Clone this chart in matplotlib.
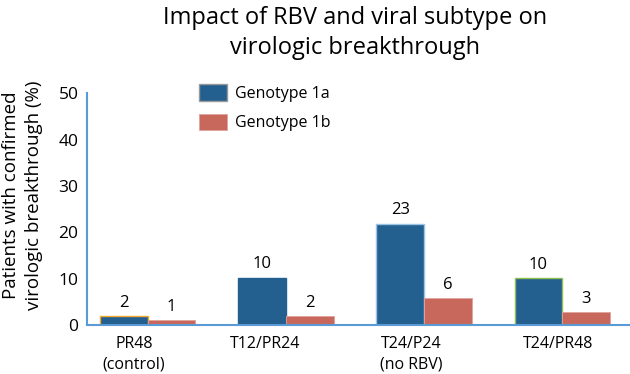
import matplotlib
matplotlib.use("Agg")
import matplotlib.pyplot as plt
import numpy as np

plt.rcParams['font.family'] = ['Open Sans', 'DejaVu Sans']

# regimens and values
groups = ['PR48\n(control)', 'T12/PR24', 'T24/P24\n(no RBV)', 'T24/PR48']
g1a = [1.9, 10.2, 21.8, 10.1]
g1b = [1.0, 1.9, 5.8, 2.7]
g1a_labels = ['2', '10', '23', '10']
g1b_labels = ['1', '2', '6', '3']

blue = '#23608f'
red = '#c8675c'
axis_col = '#5b9bd5'
edges_1a = ['#f0a830', blue, '#9cc3e6', '#8fbf4f']

fig = plt.figure(figsize=(6.3, 3.74), dpi=100)
ax = fig.add_axes([0.138, 0.131, 0.862, 0.62])

x = np.arange(len(groups))
w = 0.345
b1 = ax.bar(x - w / 2, g1a, w, color=blue, edgecolor=edges_1a, linewidth=1)
b2 = ax.bar(x + w / 2, g1b, w, color=red, edgecolor='#e0a39c', linewidth=0.6)

for i in range(len(groups)):
    ax.text(x[i] - w / 2, g1a[i] + 1.2, g1a_labels[i], ha='center', va='bottom', fontsize=12)
    ax.text(x[i] + w / 2, g1b[i] + 1.2, g1b_labels[i], ha='center', va='bottom', fontsize=12)

ax.set_xlim(-0.44, 3.49)
ax.set_ylim(0, 50)
ax.set_yticks([0, 10, 20, 30, 40, 50])
ax.tick_params(axis='y', length=0, labelsize=12.5, pad=6)
ax.set_xticks(x + np.array([-0.1, -0.15, -0.09, -0.03]))
ax.set_xticklabels(groups, fontsize=11.5, linespacing=1.4)
ax.tick_params(axis='x', length=0, pad=8)

for s in ['top', 'right']:
    ax.spines[s].set_visible(False)
for s in ['left', 'bottom']:
    ax.spines[s].set_color(axis_col)
    ax.spines[s].set_linewidth(1.5)

ax.set_ylabel('Patients with confirmed\nvirologic breakthrough (%)', fontsize=13.5, linespacing=1.4)
ax.yaxis.set_label_coords(-0.08, 0.56)

leg = ax.legend([b1[1], b2[1]], ['Genotype 1a', 'Genotype 1b'], loc='upper left',
                bbox_to_anchor=(0.18, 1.1), frameon=False, fontsize=11.5,
                handlelength=1.75, handleheight=1.2, labelspacing=0.75, handletextpad=0.5)
leg.legend_handles[0].set_edgecolor('#999999')

fig.suptitle('Impact of RBV and viral subtype on\nvirologic breakthrough', x=0.563, y=0.985,
             fontsize=17, linespacing=1.35)

fig.savefig('out.png', dpi=100)
